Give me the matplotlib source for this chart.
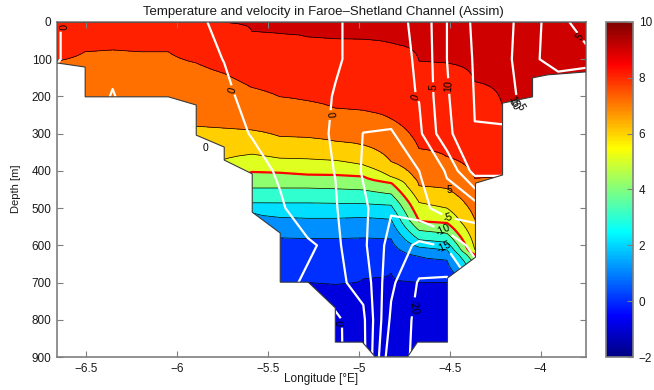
import numpy as np
import matplotlib
matplotlib.use('Agg')
import matplotlib.pyplot as plt
from matplotlib.patches import Polygon
from matplotlib.colors import Normalize, ListedColormap

plt.rcParams['font.family'] = ['Liberation Sans', 'DejaVu Sans']

# ---------------- data ----------------
# grid longitudes (deg E)
lon = [-6.660, -6.507, -6.354, -6.200, -6.047, -5.894, -5.741, -5.588, -5.434, -5.281,
       -5.128, -4.975, -4.822, -4.668, -4.515, -4.362, -4.209, -4.056, -3.903, -3.750]

# depth (m) of each isotherm at each grid longitude
iso_levels = [9, 8, 7, 6, 5, 4, 3, 2, 1, 0]
iso9 = [-60, -60, -60, -60, -60, -60, 2, 25, 33, 40, 45, 48, 58, 105, 110, 160, 226, 320, 320, 320]
iso8 = [105, 80, 75, 80, 80, 110, 138, 176, 201, 212, 232, 238, 260, 340, 362, 420, 415, 500, 500, 500]
iso7 = [400, 400, 400, 400, 400, 280, 285, 290, 308, 310, 320, 330, 375, 440, 448, 530, 600, 600, 600, 600]
iso6 = [500, 500, 500, 500, 500, 500, 369, 355, 366, 368, 372, 384, 416, 485, 500, 612, 700, 700, 700, 700]
iso5 = [600, 600, 600, 600, 600, 600, 450, 403, 405, 410, 411, 415, 432, 535, 540, 625, 720, 720, 720, 720]
iso4 = [700, 700, 700, 700, 700, 700, 480, 446, 446, 446, 448, 451, 462, 560, 568, 650, 750, 750, 750, 750]
iso3 = [750, 750, 750, 750, 750, 750, 520, 486, 486, 486, 487, 488, 492, 585, 592, 668, 780, 780, 780, 780]
iso2 = [800, 800, 800, 800, 800, 800, 560, 511, 525, 527, 527, 525, 530, 605, 612, 685, 800, 800, 800, 800]
iso1 = [850, 850, 850, 850, 850, 850, 650, 620, 580, 581, 581, 580, 582, 630, 640, 700, 850, 850, 850, 850]
iso0 = [950, 950, 950, 950, 950, 950, 950, 800, 720, 700, 705, 690, 675, 700, 700, 760, 950, 950, 950, 950]

# velocity (cm/s) at depth rows
vel_depth = [0, 100, 200, 300, 400, 500, 600, 700, 800, 900]
v000 = [0.3, -2, -2, -2, -2, -1, 1.5, 2, 2, 2, 0.5, -1.5, -1.5, 1.0, 10, 16, 17, 12, 7, 2]
v100 = [0.3, -2, -2, -2, -2, -1.5, 0.1, 2, 2, 2, 0.5, -1.5, -1.5, 0.5, 10, 15.5, 17, 11, 8, 7]
v200 = [-2, -4.5, 0.5, -4.5, -2, -2, -1, 1.5, 2, 2, -0.3, -1.5, -1.5, 0.2, 9.5, 15.2, 18, 12, 14, 20]
v300 = [-2, -2, -2, -2, -2, -2, -1.5, 0.2, 2, 1.5, -0.5, -5.1, -5.5, -1, 8.75, 14.9, 14, 14, 14, 14]
v400 = [-2, -2, -2, -2, -2, -2, -2, -1.5, 0.5, 1.5, -0.1, -5.5, -7, -5, 0.5, 12, 12, 12, 12, 12]
v500 = [-2, -2, -2, -2, -2, -2, -2, -1, -0.5, 2, 0.3, -4, -9.5, -7, -2, -3, -3, -3, -3, -3]
v600 = [-2, -2, -2, -2, -2, -2, -2, -1, -1, -0.5, 1, -4, -12, -16, -14.5, -8, -8, -8, -8, -8]
v700 = [-2, -2, -2, -2, -2, -2, -2, -1, -1, 0.5, 1, -1.5, -14, -20.5, -21, -14, -14, -14, -14, -14]
v800 = [-2, -2, -2, -2, -2, -2, -2, -1, -1, -1, -0.3, 1, -16, -21.5, -21, -19, -19, -19, -19, -19]
v900 = [-2, -2, -2, -2, -2, -2, -2, -1, -1, -1, -0.5, 1.5, -19, -20.5, -21, -19, -19, -19, -19, -19]

# bathymetry (bottom outline of the section)
bottom_lon = [-6.660, -6.505, -6.505, -6.048, -5.894, -5.894, -5.740, -5.740, -5.586, -5.586,
              -5.432, -5.432, -5.278, -5.129, -5.129, -4.980, -4.909, -4.732, -4.677, -4.512,
              -4.512, -4.358, -4.358, -4.209, -4.209, -4.044, -4.044, -3.961, -3.750]
bottom_depth = [110, 121, 201, 201, 223, 304, 336, 371, 408, 511,
                567, 699, 699, 768, 860, 860, 900, 900, 860, 860,
                688, 632, 433, 411, 218, 201, 150, 142, 134]

temp_levels = [-2, -1, 0, 1, 2, 3, 4, 5, 6, 7, 8, 9, 10]
vel_levels = [-20, -15, -10, -5, 0, 5, 10, 15]
cbar_ticks = [-2, 0, 2, 4, 6, 8, 10]
xticks = [-6.5, -6, -5.5, -5, -4.5, -4]
yticks = [0, 100, 200, 300, 400, 500, 600, 700, 800, 900]

# ---------------- fields ----------------
lon_a = np.array(lon)
z = np.arange(0, 905, 5.0)
iso = np.array([iso9, iso8, iso7, iso6, iso5, iso4, iso3, iso2, iso1, iso0], dtype=float)
T = np.empty((len(z), len(lon)))
for k in range(len(lon)):
    xp = np.concatenate([[-1000.0], iso[:, k], [2000.0]])
    fp = np.concatenate([[9.99], iso_levels, [-1.9]])
    T[:, k] = np.interp(z, xp, fp)
V = np.array([v000, v100, v200, v300, v400, v500, v600, v700, v800, v900], dtype=float)


# MATLAB-style jet(m)
def matlab_jet(m=64):
    n = int(np.ceil(m / 4))
    u = np.concatenate([np.arange(1, n + 1) / n, np.ones(n - 1), np.arange(n, 0, -1) / n])
    g = int(np.ceil(n / 2)) - (1 if m % 4 == 1 else 0) + np.arange(1, len(u) + 1)
    r = g + n
    b = g - n
    Jm = np.zeros((m, 3))
    for col, idx in ((0, r), (1, g), (2, b)):
        ok = (idx >= 1) & (idx <= m)
        Jm[idx[ok] - 1, col] = u[ok]
    return Jm


J = matlab_jet(64)
norm = Normalize(-2, 10)
fill_colors = [J[min(int((v + 2) / 12 * 64), 63)] for v in temp_levels[:-1]]
cmap_bar = ListedColormap(matlab_jet(256))

# ---------------- figure ----------------
W, H = 654, 390
fig = plt.figure(figsize=(W / 100, H / 100), dpi=100)
ax = fig.add_axes([57 / W, 1 - 357 / H, 529 / W, 335 / H])
cax = fig.add_axes([606 / W, 1 - 357 / H, 27 / W, 335 / H])

water_x = [lon[0], lon[-1]] + bottom_lon[::-1]
water_y = [0, 0] + bottom_depth[::-1]
water = Polygon(np.column_stack([water_x, water_y]), closed=True, fill=False,
                edgecolor='#3a3a3a', linewidth=0.8, zorder=6)
ax.add_patch(water)

cf = ax.contourf(lon_a, z, T, levels=temp_levels, colors=fill_colors, zorder=1)
cf.set_clip_path(water)
ck = ax.contour(lon_a, z, T, levels=temp_levels[2:-1], colors='k', linewidths=0.5, zorder=2)
ck.set_clip_path(water)
cr = ax.contour(lon_a, z, T, levels=[5], colors='red', linewidths=1.6, zorder=3)
cr.set_clip_path(water)

cv = ax.contour(lon_a, vel_depth, V, levels=vel_levels, colors='white', linewidths=1.6,
                linestyles='solid', zorder=4)
label_pos = [(-6.634, 13), (-5.695, 183), (-5.156, 250), (-4.684, 201), (-4.592, 175),
             (-4.504, 172), (-4.19, 205), (-3.81, 50), (-4.513, 537),
             (-4.55, 578), (-4.535, 607), (-4.69, 766), (-5.088, 808)]
ax.clabel(cv, manual=label_pos, inline=True, inline_spacing=2, fontsize=7.5,
          colors='k', fmt='%g', zorder=7)
cv.set_clip_path(water)
ax.text(-5.845, 339, '0', fontsize=7.5, ha='center', va='center', color='k')
ax.text(-4.50, 451, '5', fontsize=7.5, ha='center', va='center', color='k')
ax.text(-4.15, 222, '10', fontsize=7.5, ha='center', va='center', color='k', rotation=-60)
ax.text(-4.11, 228, '5', fontsize=7.5, ha='center', va='center', color='k', rotation=-60)

ax.set_xlim(lon[0], lon[-1])
ax.set_ylim(900, 0)
ax.set_xticks(xticks)
ax.set_xticklabels(['\u22126.5', '\u22126', '\u22125.5', '\u22125', '\u22124.5', '\u22124'])
ax.set_yticks(yticks)
spine_c = '#7f7f7f'
for s in ax.spines.values():
    s.set_color(spine_c)
    s.set_linewidth(1.2)
ax.tick_params(direction='in', length=4, width=0.8, color=spine_c, top=True, right=True,
               labelsize=8.5, labelcolor='#1a1a1a', pad=4)

sm = plt.cm.ScalarMappable(norm=norm, cmap=cmap_bar)
cb = fig.colorbar(sm, cax=cax, ticks=cbar_ticks)
cb.outline.set_edgecolor(spine_c)
cb.outline.set_linewidth(1.2)
cax.tick_params(direction='in', length=4, width=0.8, color=spine_c, labelsize=8.5,
                labelcolor='#1a1a1a', pad=4)
cax.set_yticklabels(['\u22122', '0', '2', '4', '6', '8', '10'])

fig.text(323 / W, 1 - 15 / H, 'Temperature and velocity in Faroe\u2013Shetland Channel (Assim)',
         ha='center', va='baseline', fontsize=9.5, color='#1a1a1a')
fig.text(321 / W, 1 - 382 / H, 'Longitude [\u00b0E]', ha='center', va='baseline',
         fontsize=8.5, color='#1a1a1a')
fig.text(16 / W, 1 - 189 / H, 'Depth [m]', rotation=90, ha='center', va='center',
         fontsize=8, color='#1a1a1a')

fig.savefig('out.png', dpi=100)
